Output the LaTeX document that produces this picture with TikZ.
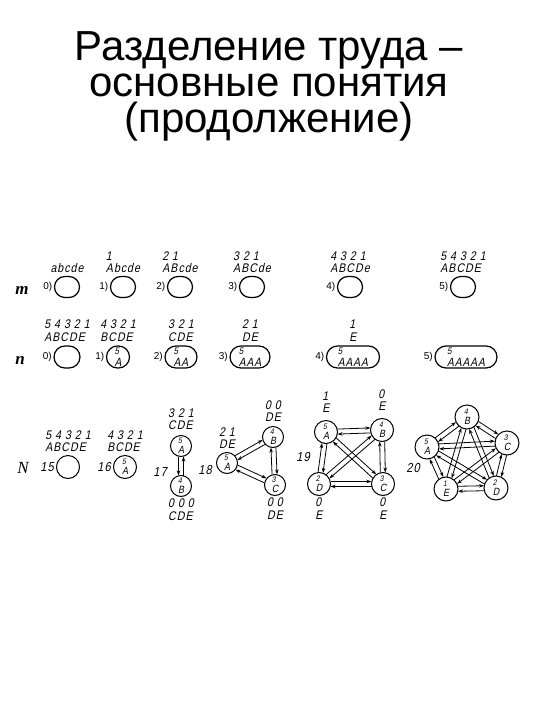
\documentclass[tikz,border=0pt]{standalone}
\usepackage{fontspec}
\setmainfont{Liberation Sans}
\newfontfamily\serifit{Liberation Serif}
\newfontfamily\gost[FakeStretch=0.85,FakeSlant=0.2,LetterSpace=8]{Liberation Sans}
\usetikzlibrary{positioning, calc, arrows.meta}

\newcommand{\sm}[1]{{\fontsize{8}{8}\selectfont#1}}
\newcommand{\smn}[1]{{\fontsize{9.5}{9.5}\selectfont#1}}
% two opposite arrows side by side between two nodes
\newcommand{\pair}[3][2.5pt]{%
  \draw[arr] ($(#2)!#1!90:(#3)$) -- ($(#3)!#1!-90:(#2)$);
  \draw[arr] ($(#3)!#1!90:(#2)$) -- ($(#2)!#1!-90:(#3)$);
}

\tikzset{
  title/.style={align=center, inner sep=0pt, font=\fontsize{42}{36}\selectfont},
  row/.style={inner sep=0pt, font=\serifit\bfseries\itshape\fontsize{17}{17}\selectfont},
  cell/.style={draw, line width=1.2pt, rounded corners=11pt, minimum height=22pt, inner sep=1pt, align=left, font=\gost\fontsize{12}{11.5}\selectfont},
  lbl/.style={align=left, inner sep=0pt, font=\gost\fontsize{12.5}{12.5}\selectfont},
  num/.style={inner sep=0pt, font=\fontsize{10}{10}\selectfont},
  gnum/.style={inner sep=0pt, font=\gost\fontsize{13}{13}\selectfont},
  gnode/.style={circle, draw, line width=1pt, minimum size=21pt, inner sep=0pt, align=left, font=\gost\fontsize{10.5}{10}\selectfont},
  arr/.style={-{Stealth[length=5pt,width=3.5pt]}, line width=0.8pt, shorten >=10.5pt, shorten <=10.5pt}
}

\begin{document}
\begin{tikzpicture}[x=1pt, y=-1pt]
  \useasboundingbox (0,0) rectangle (540,720);

  % Title
  \node[title] (title) at (269,86) {Разделение труда –\\основные понятия\\(продолжение)};

  % Row m
  \node[row] (m) at (22,290) {m};
  \foreach \i/\x/\digs/\lets in {0/67/\mbox{}/abcde, 1/123/1/Abcde, 2/180/2 1/ABcde, 3/252/3 2 1/ABCde, 4/350/4 3 2 1/ABCDe, 5/463/5 4 3 2 1/ABCDE} {
    \node[cell, minimum width=25pt, minimum height=21pt, rounded corners=10.5pt] (m\i) at (\x,287) {};
    \node[num, left=1.5pt of m\i] (m\i n) {\i)};
    \node[lbl, above=3pt of m\i] (m\i l) {\digs\\\lets};
  }

  % Row n
  \node[row] (n) at (20,360) {n};
  \foreach \i/\x/\w/\inn/\digs/\lets in {0/67/26/\mbox{}/5 4 3 2 1/ABCDE, 1/118/23/\smn{5}\\A/4 3 2 1/BCDE, 2/181/32/\smn{5}\\AA/3 2 1/CDE, 3/250/40/\smn{5}\\AAA/2 1/DE, 4/353/53/\smn{5}\\AAAA/1/E, 5/466/62/\smn{5}\\AAAAA/\mbox{}/\mbox{}} {
    \node[cell, minimum width=\w pt] (n\i) at (\x,357) {\inn};
    \node[num, left=1.5pt of n\i] (n\i n) {\i)};
    \node[lbl, above=4pt of n\i] (n\i l) {\digs\\\lets};
  }

  % Row N
  \node[row, font=\serifit\itshape\fontsize{17}{17}\selectfont] (N) at (23,468) {N};
  \node[gnode, minimum size=23pt] (g15) at (68,467) {};
  \node[gnum, left=2pt of g15] (g15n) {15};
  \node[lbl, above=3pt of g15] (g15l) {5 4 3 2 1\\ABCDE};
  \node[gnode, minimum size=23pt] (g16) at (125,467) {\sm{5}\\A};
  \node[gnum, left=2pt of g16] (g16n) {16};
  \node[lbl, above=3pt of g16] (g16l) {4 3 2 1\\BCDE};

  % Graph 17
  \node[gnode] (g17A) at (181,446) {\sm{5}\\A};
  \node[gnode] (g17B) at (181,486) {\sm{4}\\B};
  \node[gnum] (g17n) at (160,472) {17};
  \node[lbl, above=5pt of g17A] (g17Al) {3 2 1\\CDE};
  \node[lbl, below=2pt of g17B] (g17Bl) {0 0 0\\CDE};
  \pair[-2.5pt]{g17A}{g17B}

  % Graph 18
  \node[gnode] (g18A) at (227,463) {\sm{5}\\A};
  \node[gnode] (g18B) at (273,437) {\sm{4}\\B};
  \node[gnode] (g18C) at (275,485) {\sm{3}\\C};
  \node[gnum] (g18n) at (205,470) {18};
  \node[lbl, above=3pt of g18A] (g18Al) {2 1\\DE};
  \node[lbl, above=4pt of g18B] (g18Bl) {0 0\\DE};
  \node[lbl, below=2pt of g18C] (g18Cl) {0 0\\DE};
  \foreach \a/\b in {A/B, B/C, A/C} {
    \pair{g18\a}{g18\b}
  }

  % Graph 19
  \begin{scope}[gnode/.append style={minimum size=23pt}, arr/.append style={shorten >=11.5pt, shorten <=11.5pt}]
    \node[gnode] (g19A) at (326,432) {\sm{5}\\A};
    \node[gnode] (g19B) at (382,430) {\sm{4}\\B};
    \node[gnode] (g19C) at (383,484) {\sm{3}\\C};
    \node[gnode] (g19D) at (319,484) {\sm{2}\\D};
    \node[gnum] (g19n) at (303,457) {19};
    \node[lbl, above=7pt of g19A] (g19Al) {1\\E};
    \node[lbl, above=7pt of g19B] (g19Bl) {0\\E};
    \node[lbl, below=2pt of g19C] (g19Cl) {0\\E};
    \node[lbl, below=2pt of g19D] (g19Dl) {0\\E};
    \foreach \a/\b in {A/B, A/C, A/D, B/C, B/D, C/D} {
      \pair{g19\a}{g19\b}
    }
  \end{scope}

  % Graph 20
  \begin{scope}[gnode/.append style={minimum size=24pt}, arr/.append style={shorten >=12pt, shorten <=12pt}]
    \node[gnode] (g20A) at (427,447) {\sm{5}\\A};
    \node[gnode] (g20B) at (467,417) {\sm{4}\\B};
    \node[gnode] (g20C) at (507,443) {\sm{3}\\C};
    \node[gnode] (g20D) at (496,488) {\sm{2}\\D};
    \node[gnode] (g20E) at (446,489) {\sm{1}\\E};
    \node[gnum] (g20n) at (413,468) {20};
    \foreach \a/\b in {A/B, A/C, A/D, A/E, B/C, B/D, B/E, C/D, C/E, D/E} {
      \pair{g20\a}{g20\b}
    }
  \end{scope}
\end{tikzpicture}
\end{document}
